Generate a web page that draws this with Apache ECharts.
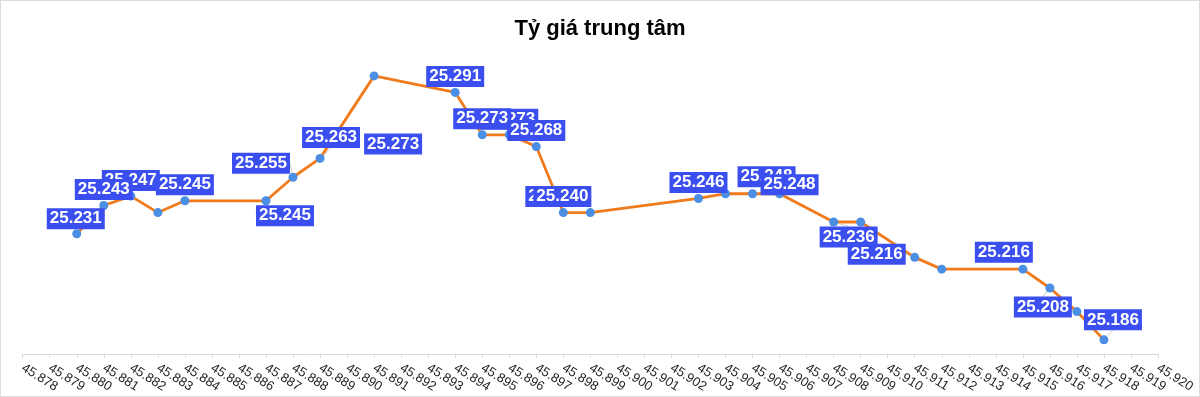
<!DOCTYPE html>
<html>
<head>
<meta charset="utf-8">
<script src="https://cdn.jsdelivr.net/npm/echarts@6/dist/echarts.min.js"></script>
<style>
  html, body { margin: 0; padding: 0; background: #fff; }
  #chart { width: 1200px; height: 397px; box-sizing: border-box; border: 1px solid #dcdcdc; }
</style>
</head>
<body>
<div id="chart"></div>
<script>
// ---- data ----
const title = 'Tỷ giá trung tâm';
const dates = [45880, 45881, 45882, 45883, 45884, 45887, 45888, 45889, 45891, 45894, 45895, 45896, 45897, 45898, 45899, 45903, 45904, 45905, 45906, 45908, 45909, 45911, 45912, 45915, 45916, 45917, 45918];
const values = [25.231, 25.243, 25.247, 25.240, 25.245, 25.245, 25.255, 25.263, 25.298, 25.291, 25.273, 25.273, 25.268, 25.240, 25.240, 25.246, 25.248, 25.248, 25.248, 25.236, 25.236, 25.221, 25.216, 25.216, 25.208, 25.198, 25.186];
const labelTexts = ['25.231', '25.243', '25.247', null, '25.245', '25.245', '25.255', '25.263', '25.273', '25.291', '25.273', '25.273', '25.268', '25.240', '25.240', '25.246', null, '25.248', '25.248', '25.236', null, '25.216', null, '25.216', '25.208', null, '25.186'];
const xMin = 45878, xMax = 45920;

// ---- label placement (styling) ----
const labelShift = {
  0: [-1, 1], 5: [19, 31], 6: [-32, 2], 7: [11, -5], 8: [19, 84],
  13: [-9, 0], 14: [-28, 0], 17: [14, -1], 18: [10, 7], 19: [15, 31],
  21: [-38, 13], 23: [-19, -1], 24: [-7, 35], 26: [9, -4]
};
const noLeader = [0, 8, 13, 14, 17, 18, 23];
const underLabels = [2, 11];

const labelStyle = {
  position: 'top', distance: 1,
  color: '#ffffff', fontFamily: 'Liberation Sans, Arial, sans-serif',
  fontWeight: 'bold', fontSize: 17, lineHeight: 19,
  backgroundColor: '#3b4ff0', padding: [1, 3, 1, 3]
};

function makeData(filter) {
  return dates.map((d, i) => {
    const item = { value: [d, values[i]] };
    const txt = labelTexts[i];
    if (txt && filter(i)) {
      item.label = Object.assign({ show: true, formatter: txt }, labelStyle);
      item.labelLine = { show: !!labelShift[i] && !noLeader.includes(i), lineStyle: { color: '#c8c8c8', width: 1 } };
    } else {
      item.label = { show: false };
    }
    return item;
  });
}
const shiftFn = p => { const s = labelShift[p.dataIndex] || [0, 0]; return { dx: s[0], dy: s[1] }; };

const chart = echarts.init(document.getElementById('chart'), null, { renderer: 'canvas' });
chart.setOption({
  animation: false,
  backgroundColor: '#ffffff',
  title: {
    text: title, left: 'center', top: 12,
    textStyle: { fontFamily: 'Liberation Sans, Arial, sans-serif', fontWeight: 'bold', fontSize: 22, color: '#000' }
  },
  grid: { left: 21.7, right: 41, top: 46.6, bottom: 42 },
  xAxis: {
    type: 'value', min: xMin, max: xMax, interval: 1,
    splitLine: { show: false },
    axisLine: { show: true, lineStyle: { color: '#d9d9d9', width: 1 } },
    axisTick: { show: true, length: 4, lineStyle: { color: '#d9d9d9' } },
    axisLabel: {
      rotate: -32, margin: 13, fontSize: 13, color: '#222',
      fontFamily: 'Liberation Sans, Arial, sans-serif',
      showMinLabel: true, showMaxLabel: true,
      formatter: v => String(Math.floor(v / 1000)) + '.' + String(v % 1000).padStart(3, '0')
    }
  },
  yAxis: {
    type: 'value', min: 25.18, max: 25.31, show: false,
    splitLine: { show: false }
  },
  series: [
    {
      type: 'line', z: 1, silent: true,
      data: makeData(i => underLabels.includes(i)),
      symbol: 'circle', symbolSize: 8,
      itemStyle: { color: 'rgba(0,0,0,0)', borderWidth: 0 },
      lineStyle: { opacity: 0 },
      labelLayout: shiftFn
    },
    {
      type: 'line', z: 3,
      data: makeData(i => !underLabels.includes(i)),
      symbol: 'circle', symbolSize: 9,
      itemStyle: { color: '#4a8fe3' },
      lineStyle: { color: '#f07b1d', width: 2.8 },
      labelLayout: shiftFn
    }
  ]
});
</script>
</body>
</html>
